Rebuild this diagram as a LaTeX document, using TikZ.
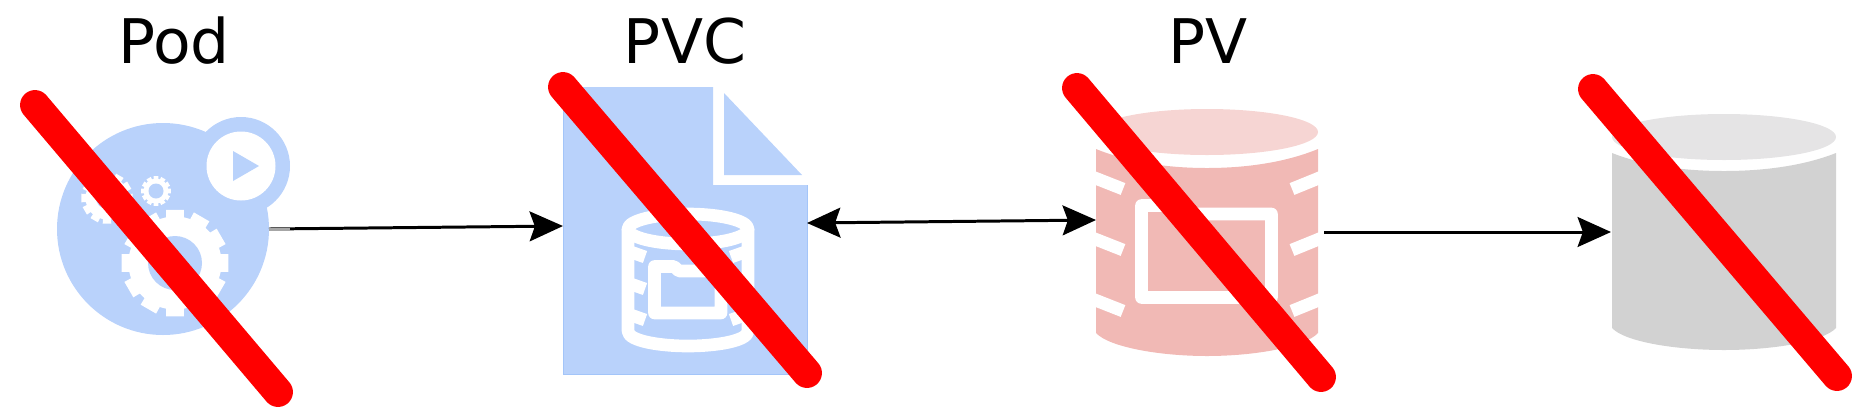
\documentclass[tikz,border=0pt]{standalone}
\usepackage{fontspec}
\usepackage{xcolor}
\setmainfont{DejaVu Sans}
\usetikzlibrary{arrows.meta}

\definecolor{podblue}{HTML}{B9D2FB}
\definecolor{pvcedge}{HTML}{A3C5F9}
\definecolor{pvbody}{HTML}{F1B9B5}
\definecolor{pvlid}{HTML}{F6D5D3}
\definecolor{diskbody}{HTML}{D2D2D2}
\definecolor{disklid}{HTML}{E5E4E5}

\tikzset{
  title/.style={anchor=base,font=\fontsize{35}{42}\selectfont},
  link/.style={line width=1.7pt},
  crossout/.style={red,line width=17pt,line cap=round},
  iconline/.style={white,line width=7.2pt,line join=round}
}

% one gear: centre, outer radius, root radius, hole radius
\newcommand{\podgear}[4]{
  \begin{scope}[shift={#1}]
    \fill[white] (0,0) circle [radius=#3];
    \foreach \a in {0,30,...,330}
      \fill[white] (\a-11:#3-0.5) -- (\a-9.5:#2) -- (\a+9.5:#2) -- (\a+11:#3-0.5) -- cycle;
    \fill[podblue] (0,0) circle [radius=#4];
  \end{scope}
}

\begin{document}
\begin{tikzpicture}[x=0.02cm,y=-0.02cm,>={Stealth[length=19pt,width=17pt,inset=3pt]}]
        \useasboundingbox (0,0) rectangle (1856,417);

        \node[title] (podtitle) at (174,63) {Pod};
        \node[title] (pvctitle) at (685,63) {PVC};
        \node[title] (pvtitle) at (1208,63) {PV};

        % pod
        \fill[podblue] (163,229) circle [radius=106];
        \fill[podblue] (241,166) circle [radius=49];
        \fill[white] (241,166) circle [radius=34.5];
        \fill[podblue] (233,151) -- (259,166) -- (233,181) -- cycle;
        \podgear{(175,263)}{54}{46.5}{27}
        \podgear{(156,191)}{15}{12.5}{7.5}
        \podgear{(107,198)}{26}{21.5}{11}

        % pvc
        \fill[podblue] (563,87) -- (713,87) -- (713,185) -- (807,185) -- (807,374) -- (563,374) -- cycle;
        \draw[pvcedge,line width=0.5pt] (563,87) -- (563,374) -- (807,374) -- (807,185);
        \fill[podblue] (724,93) -- (802,175) -- (724,175) -- cycle;
        \draw[iconline] (688,229) ellipse [x radius=60,y radius=15];
        \draw[iconline] (628,229) -- (628,331) .. controls (628,341) and (660,346) .. (688,346)
          .. controls (716,346) and (748,341) .. (748,331) -- (748,229);
        \draw[iconline] (654.5,266.5) -- (674,266.5) -- (679,271) -- (721,271) -- (721,313) -- (654.5,313) -- cycle;
        \foreach \y in {253,285,316} {
          \draw[iconline] (628,\y-2) -- (645,\y+4);
          \draw[iconline] (748,\y-2) -- (731,\y+4);
        }

        % pv
        \fill[pvbody] (1096,149) .. controls (1130,163) and (1170,168) .. (1207,168)
          .. controls (1244,168) and (1284,163) .. (1318,149) -- (1318,333)
          .. controls (1305,347) and (1255,356) .. (1207,356)
          .. controls (1159,356) and (1109,347) .. (1096,333) -- cycle;
        \fill[pvlid] (1207,132) ellipse [x radius=111,y radius=23];
        \draw[iconline] (1141.5,205.5) -- (1175,205.5) -- (1180,214) -- (1271.5,214) -- (1271.5,297.5) -- (1141.5,297.5) -- cycle;
        \foreach \y in {178,239,300} {
          \draw[iconline] (1090,\y-2) -- (1123,\y+11);
          \draw[iconline] (1324,\y-2) -- (1292,\y+11);
        }

        % disk
        \fill[diskbody] (1612,153) .. controls (1645,166) and (1685,171) .. (1724,171)
          .. controls (1763,171) and (1803,166) .. (1836,153) -- (1836,328)
          .. controls (1823,342) and (1772,350) .. (1724,350)
          .. controls (1676,350) and (1625,342) .. (1612,328) -- cycle;
        \fill[disklid] (1724,137) ellipse [x radius=112,y radius=23];

        % links
        \coordinate (podout) at (269,229);
        \coordinate (podfade) at (290,229);
        \coordinate (pvcin) at (563,226);
        \coordinate (pvcout) at (807,223);
        \coordinate (pvin) at (1096,220);
        \coordinate (pvout) at (1324,232);
        \coordinate (diskin) at (1611,232);

        \draw[link,->] (podout) -- (pvcin);
        \draw[link,gray!70] (podout) -- (podfade);
        \draw[link,<->] (pvcout) -- (pvin);
        \draw[link,->] (pvout) -- (diskin);

        % crossed out
        \draw[crossout] (35,105) -- (278,392);
        \draw[crossout] (563,87) -- (807,373);
        \draw[crossout] (1077,88) -- (1321,377);
        \draw[crossout] (1593,89) -- (1837,376);
      \end{tikzpicture}
\end{document}
